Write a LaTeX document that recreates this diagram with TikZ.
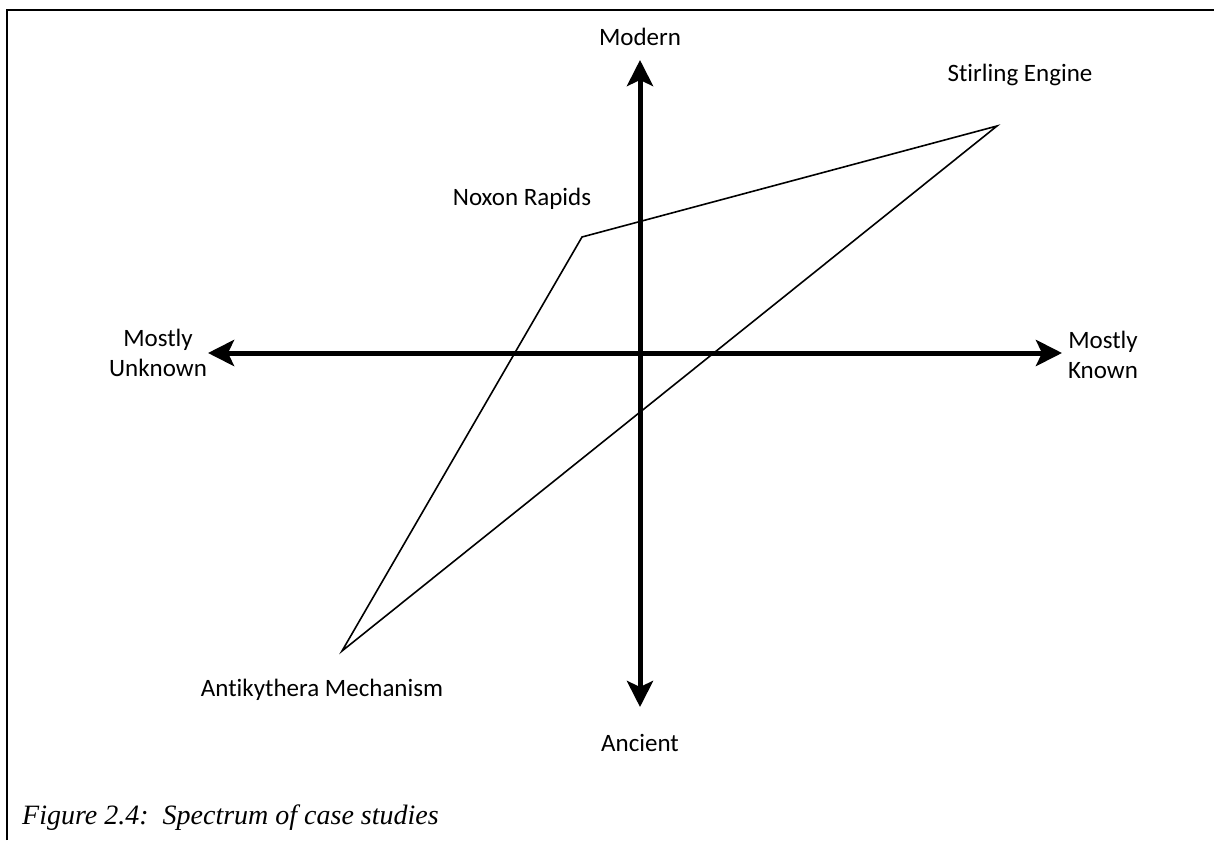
\documentclass[tikz,border=0pt]{standalone}
\usepackage{fontspec}
\setmainfont{Liberation Serif}
\newfontfamily\labelfont[Ligatures=NoCommon]{Carlito}
\usetikzlibrary{arrows.meta}
\begin{document}
\begin{tikzpicture}[x=1pt,y=-1pt,
  axis/.style={line width=5pt,-{Stealth[length=26pt,width=26pt,inset=6pt]}},
  edge/.style={line width=1.6pt,line join=miter},
  lbl/.style={font=\labelfont\fontsize{25}{30}\selectfont,inner sep=0pt,align=center},
  frame/.style={line width=2.6pt}]
\useasboundingbox (0,0) rectangle (1214,840);
% page frame (left and top edges)
\draw[frame] (7,840) -- (7,10) -- (1214,10);
% axes
\coordinate (O) at (640,353);
\coordinate (top) at (640,60);
\coordinate (bot) at (640,707);
\coordinate (lft) at (208,353);
\coordinate (rgt) at (1062,353);
\draw[axis] (O) -- (top);
\draw[axis] (O) -- (bot);
\draw[axis] (O) -- (lft);
\draw[axis] (O) -- (rgt);
% axis labels
\node[lbl] (modern) at (640,37) {Modern};
\node[lbl] (ancient) at (640,743) {Ancient};
\node[lbl] (unknown) at (158,353) {Mostly\\Unknown};
\node[lbl] (known) at (1103,355) {Mostly\\Known};
% case studies
\coordinate (nox) at (582,237);
\coordinate (sti) at (997,126);
\coordinate (ant) at (342,651);
\draw[edge] (ant) -- (nox) -- (sti) -- cycle;
\node[lbl] (noxl) at (522,199) {Noxon Rapids};
\node[lbl] (stil) at (1020,75) {Stirling Engine};
\node[lbl] (antl) at (322,690) {Antikythera Mechanism};
% caption
\node[anchor=west,inner sep=0pt,font=\itshape\fontsize{28}{32}\selectfont] (cap) at (22,818) {Figure 2.4:\ \ Spectrum of case studies};
\end{tikzpicture}
\end{document}
